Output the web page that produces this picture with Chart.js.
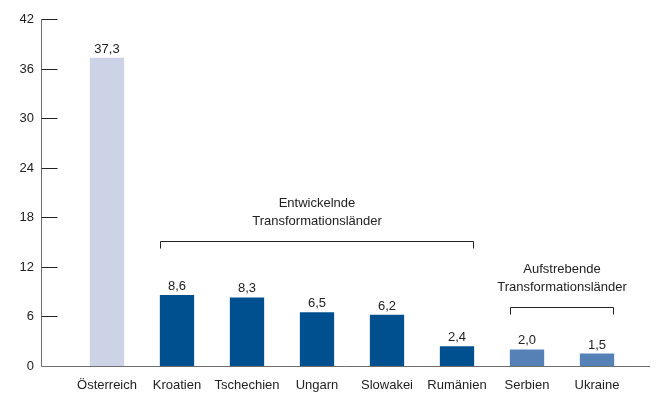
<!DOCTYPE html>
<html>
<head>
<meta charset="utf-8">
<script src="https://cdn.jsdelivr.net/npm/chart.js@4.4.1/dist/chart.umd.min.js"></script>
<style>
  html, body { margin: 0; padding: 0; background: #fff; }
</style>
</head>
<body>
<canvas id="bar_chart" width="656" height="403"></canvas>
<script>
const countries = ["Österreich", "Kroatien", "Tschechien", "Ungarn", "Slowakei", "Rumänien", "Serbien", "Ukraine"];
const shares = [37.3, 8.6, 8.3, 6.5, 6.2, 2.4, 2.0, 1.5];
const barColors = ["#cdd3e6", "#00508f", "#00508f", "#00508f", "#00508f", "#00508f", "#5681b6", "#5681b6"];
const yTicks = [0, 6, 12, 18, 24, 30, 36, 42];

// groups of countries marked with a bracket
const groupNames = [["Entwickelnde", "Transformationsländer"], ["Aufstrebende", "Transformationsländer"]];
const groupFirst = [1, 6];
const groupLast = [5, 7];

const FONT = "13px 'Liberation Sans', Arial, sans-serif";
const TEXT = "#222";
const bracketY = [241, 307];

const decorPlugin = {
  id: "decor",
  afterDatasetsDraw(chart) {
    const ctx = chart.ctx;
    const y = chart.scales.y;
    const axisX = 41.5;
    const top = Math.round(y.getPixelForValue(yTicks[yTicks.length - 1])) + 0.5;
    const base = Math.round(y.getPixelForValue(0)) + 0.5;

    ctx.save();
    ctx.lineWidth = 1;

    // axes
    ctx.strokeStyle = "#6e6e6e";
    ctx.beginPath();
    ctx.moveTo(axisX, top);
    ctx.lineTo(axisX, base);
    ctx.lineTo(650, base);
    ctx.stroke();

    // y ticks + labels (ticks point into the plot)
    ctx.strokeStyle = "#222";
    ctx.fillStyle = TEXT;
    ctx.font = FONT;
    ctx.textAlign = "right";
    ctx.textBaseline = "middle";
    yTicks.forEach((v) => {
      const py = Math.round(y.getPixelForValue(v)) + 0.5;
      if (v > 0) {
        ctx.beginPath();
        ctx.moveTo(axisX, py);
        ctx.lineTo(axisX + 16, py);
        ctx.stroke();
      }
      ctx.fillText(String(v), 34, py);
    });

    // value labels
    const meta = chart.getDatasetMeta(0);
    ctx.textAlign = "center";
    ctx.textBaseline = "alphabetic";
    meta.data.forEach((bar, i) => {
      ctx.fillText(shares[i].toFixed(1).replace(".", ","), bar.x, bar.y - 5);
    });

    // brackets with group names
    ctx.strokeStyle = "#222";
    groupNames.forEach((lines, g) => {
      const a = meta.data[groupFirst[g]];
      const b = meta.data[groupLast[g]];
      const x1 = Math.round(a.x - a.width / 2) + 0.5;
      const x2 = Math.round(b.x + b.width / 2) - 0.5;
      const by = bracketY[g] + 0.5;
      ctx.beginPath();
      ctx.moveTo(x1, by + 7);
      ctx.lineTo(x1, by);
      ctx.lineTo(x2, by);
      ctx.lineTo(x2, by + 7);
      ctx.stroke();
      const cx = (x1 + x2) / 2;
      ctx.textBaseline = "middle";
      ctx.fillText(lines[1], cx, bracketY[g] - 20);
      ctx.fillText(lines[0], cx, bracketY[g] - 38);
    });

    ctx.restore();
  },
};

const ctx = document.getElementById("bar_chart").getContext("2d");

let configuration = {
  type: "bar",
  data: {
    labels: countries,
    datasets: [
      {
        data: shares,
        backgroundColor: barColors,
        borderWidth: 0,
        barPercentage: 0.49,
        categoryPercentage: 1,
      },
    ],
  },
  options: {
    responsive: false,
    animation: false,
    devicePixelRatio: 1,
    layout: { padding: { left: 72, right: 24, top: 19, bottom: 0 } },
    plugins: {
      legend: { display: false },
      tooltip: { enabled: false },
    },
    scales: {
      x: {
        grid: { display: false, drawTicks: false },
        border: { display: false },
        ticks: {
          color: TEXT,
          padding: 12,
          maxRotation: 0,
          autoSkip: false,
          font: { family: "'Liberation Sans', Arial, sans-serif", size: 13 },
        },
        afterFit: (scale) => {
          scale.height = 37;
        },
      },
      y: {
        display: false,
        min: 0,
        max: 42,
      },
    },
  },
  plugins: [decorPlugin],
};

new Chart(ctx, configuration);
</script>
</body>
</html>
